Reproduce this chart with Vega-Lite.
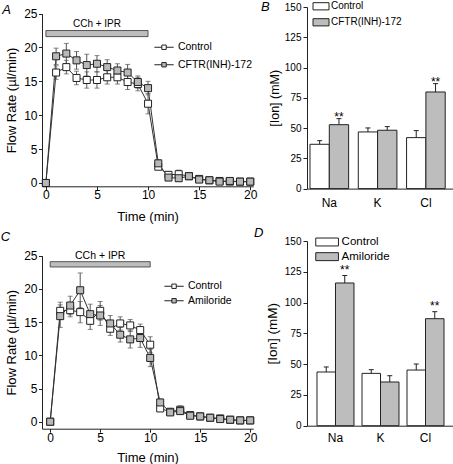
{
  "$schema": "https://vega.github.io/schema/vega-lite/v6.json",
  "padding": 0,
  "autosize": {"type": "pad"},
  "config": {
    "font": "Liberation Sans",
    "view": {"stroke": null},
    "axis": {"grid": false, "domainColor": "#222", "tickColor": "#222", "labelColor": "#000", "titleColor": "#000", "labelFont": "Liberation Sans", "titleFont": "Liberation Sans", "titleFontWeight": "normal", "tickSize": 3.5, "domainWidth": 1, "tickWidth": 1, "labelFlush": false, "labelOverlap": false},
    "legend": {"labelFont": "Liberation Sans", "labelColor": "#000", "padding": 0, "title": null},
    "title": {"font": "Liberation Sans", "fontStyle": "italic", "fontWeight": "normal", "fontSize": 13, "anchor": "start", "color": "#000", "offset": 0, "frame": "group"}
  },
  "columns": 2,
  "bounds": "flush",
  "spacing": {"row": 52, "column": 53},
  "resolve": {"scale": {"fill": "independent", "x": "independent", "y": "independent", "xOffset": "independent"}, "legend": {"fill": "independent"}},
  "datasets": {
    "flowA": [
      {"t": 0, "series": "Control", "v": 0, "sem": 0},
      {"t": 1, "series": "Control", "v": 16.3, "sem": 1.0},
      {"t": 2, "series": "Control", "v": 17.1, "sem": 1.0},
      {"t": 3, "series": "Control", "v": 15.5, "sem": 1.0},
      {"t": 4, "series": "Control", "v": 15.2, "sem": 1.2},
      {"t": 5, "series": "Control", "v": 15.2, "sem": 1.2},
      {"t": 6, "series": "Control", "v": 15.6, "sem": 1.0},
      {"t": 7, "series": "Control", "v": 15.6, "sem": 1.0},
      {"t": 8, "series": "Control", "v": 14.9, "sem": 1.1},
      {"t": 9, "series": "Control", "v": 14.6, "sem": 1.0},
      {"t": 10, "series": "Control", "v": 11.7, "sem": 1.5},
      {"t": 11, "series": "Control", "v": 2.4, "sem": 0.4},
      {"t": 12, "series": "Control", "v": 1.2, "sem": 0.5},
      {"t": 13, "series": "Control", "v": 1.3, "sem": 0.6},
      {"t": 14, "series": "Control", "v": 1.0, "sem": 0.4},
      {"t": 15, "series": "Control", "v": 0.6, "sem": 0.3},
      {"t": 16, "series": "Control", "v": 0.4, "sem": 0.3},
      {"t": 17, "series": "Control", "v": 0.3, "sem": 0.3},
      {"t": 18, "series": "Control", "v": 0.2, "sem": 0.3},
      {"t": 19, "series": "Control", "v": 0.2, "sem": 0.3},
      {"t": 20, "series": "Control", "v": 0.2, "sem": 0.2},
      {"t": 0, "series": "CFTR(INH)-172", "v": 0, "sem": 0},
      {"t": 1, "series": "CFTR(INH)-172", "v": 18.7, "sem": 1.2},
      {"t": 2, "series": "CFTR(INH)-172", "v": 19.1, "sem": 1.5},
      {"t": 3, "series": "CFTR(INH)-172", "v": 18.1, "sem": 1.3},
      {"t": 4, "series": "CFTR(INH)-172", "v": 17.4, "sem": 1.6},
      {"t": 5, "series": "CFTR(INH)-172", "v": 17.6, "sem": 1.2},
      {"t": 6, "series": "CFTR(INH)-172", "v": 17.1, "sem": 1.1},
      {"t": 7, "series": "CFTR(INH)-172", "v": 16.6, "sem": 1.0},
      {"t": 8, "series": "CFTR(INH)-172", "v": 16.3, "sem": 1.2},
      {"t": 9, "series": "CFTR(INH)-172", "v": 14.9, "sem": 0.9},
      {"t": 10, "series": "CFTR(INH)-172", "v": 14.0, "sem": 1.0},
      {"t": 11, "series": "CFTR(INH)-172", "v": 2.9, "sem": 0.5},
      {"t": 12, "series": "CFTR(INH)-172", "v": 0.8, "sem": 0.4},
      {"t": 13, "series": "CFTR(INH)-172", "v": 0.7, "sem": 0.4},
      {"t": 14, "series": "CFTR(INH)-172", "v": 1.0, "sem": 0.4},
      {"t": 15, "series": "CFTR(INH)-172", "v": 0.5, "sem": 0.3},
      {"t": 16, "series": "CFTR(INH)-172", "v": 0.4, "sem": 0.3},
      {"t": 17, "series": "CFTR(INH)-172", "v": 0.2, "sem": 0.3},
      {"t": 18, "series": "CFTR(INH)-172", "v": 0.3, "sem": 0.4},
      {"t": 19, "series": "CFTR(INH)-172", "v": 0.2, "sem": 0.4},
      {"t": 20, "series": "CFTR(INH)-172", "v": 0.2, "sem": 0.3}
    ],
    "flowC": [
      {"t": 0, "series": "Control", "v": 0, "sem": 0},
      {"t": 1, "series": "Control", "v": 16.7, "sem": 1.3},
      {"t": 2, "series": "Control", "v": 16.8, "sem": 1.0},
      {"t": 3, "series": "Control", "v": 16.5, "sem": 1.6},
      {"t": 4, "series": "Control", "v": 15.2, "sem": 1.3},
      {"t": 5, "series": "Control", "v": 16.7, "sem": 1.4},
      {"t": 6, "series": "Control", "v": 14.0, "sem": 1.0},
      {"t": 7, "series": "Control", "v": 14.8, "sem": 1.0},
      {"t": 8, "series": "Control", "v": 14.5, "sem": 0.9},
      {"t": 9, "series": "Control", "v": 13.8, "sem": 0.9},
      {"t": 10, "series": "Control", "v": 11.6, "sem": 1.2},
      {"t": 11, "series": "Control", "v": 2.0, "sem": 0.4},
      {"t": 12, "series": "Control", "v": 1.5, "sem": 0.5},
      {"t": 13, "series": "Control", "v": 1.8, "sem": 0.6},
      {"t": 14, "series": "Control", "v": 1.0, "sem": 0.4},
      {"t": 15, "series": "Control", "v": 0.8, "sem": 0.4},
      {"t": 16, "series": "Control", "v": 0.6, "sem": 0.4},
      {"t": 17, "series": "Control", "v": 0.5, "sem": 0.4},
      {"t": 18, "series": "Control", "v": 0.3, "sem": 0.3},
      {"t": 19, "series": "Control", "v": 0.2, "sem": 0.3},
      {"t": 20, "series": "Control", "v": 0.2, "sem": 0.3},
      {"t": 0, "series": "Amiloride", "v": 0, "sem": 0},
      {"t": 1, "series": "Amiloride", "v": 15.9, "sem": 1.7},
      {"t": 2, "series": "Amiloride", "v": 17.5, "sem": 1.4},
      {"t": 3, "series": "Amiloride", "v": 19.8, "sem": 2.6},
      {"t": 4, "series": "Amiloride", "v": 16.2, "sem": 1.5},
      {"t": 5, "series": "Amiloride", "v": 16.0, "sem": 1.5},
      {"t": 6, "series": "Amiloride", "v": 14.8, "sem": 1.2},
      {"t": 7, "series": "Amiloride", "v": 13.1, "sem": 1.1},
      {"t": 8, "series": "Amiloride", "v": 12.4, "sem": 1.3},
      {"t": 9, "series": "Amiloride", "v": 12.6, "sem": 1.4},
      {"t": 10, "series": "Amiloride", "v": 9.6, "sem": 1.3},
      {"t": 11, "series": "Amiloride", "v": 2.9, "sem": 0.5},
      {"t": 12, "series": "Amiloride", "v": 1.4, "sem": 0.4},
      {"t": 13, "series": "Amiloride", "v": 1.6, "sem": 0.5},
      {"t": 14, "series": "Amiloride", "v": 0.9, "sem": 0.3},
      {"t": 15, "series": "Amiloride", "v": 0.8, "sem": 0.3},
      {"t": 16, "series": "Amiloride", "v": 0.6, "sem": 0.3},
      {"t": 17, "series": "Amiloride", "v": 0.4, "sem": 0.3},
      {"t": 18, "series": "Amiloride", "v": 0.3, "sem": 0.3},
      {"t": 19, "series": "Amiloride", "v": 0.2, "sem": 0.3},
      {"t": 20, "series": "Amiloride", "v": 0.2, "sem": 0.3}
    ],
    "treatment": [{"start": 0, "end": 10, "label": "CCh + IPR"}],
    "barsB": [
      {"ion": "Na", "group": "Control", "v": 36.6, "top": 39.6, "sig": ""},
      {"ion": "Na", "group": "CFTR(INH)-172", "v": 52.8, "top": 57.8, "sig": "**"},
      {"ion": "K", "group": "Control", "v": 46.8, "top": 50.1, "sig": ""},
      {"ion": "K", "group": "CFTR(INH)-172", "v": 48.2, "top": 51.2, "sig": ""},
      {"ion": "Cl", "group": "Control", "v": 42.1, "top": 47.9, "sig": ""},
      {"ion": "Cl", "group": "CFTR(INH)-172", "v": 79.8, "top": 86.7, "sig": "**"}
    ],
    "barsD": [
      {"ion": "Na", "group": "Control", "v": 43.6, "top": 47.7, "sig": ""},
      {"ion": "Na", "group": "Amiloride", "v": 115.9, "top": 122.0, "sig": "**"},
      {"ion": "K", "group": "Control", "v": 42.5, "top": 45.5, "sig": ""},
      {"ion": "K", "group": "Amiloride", "v": 35.5, "top": 40.6, "sig": ""},
      {"ion": "Cl", "group": "Control", "v": 45.2, "top": 50.1, "sig": ""},
      {"ion": "Cl", "group": "Amiloride", "v": 86.9, "top": 92.6, "sig": "**"}
    ]
  },
  "concat": [
    {
      "width": 211.2,
      "height": 179.3,
      "title": {"text": "A", "dx": -39.8, "dy": 13.5},
      "layer": [
        {
          "data": {"name": "treatment"},
          "mark": {"type": "rect", "fill": "#bdbdbd", "stroke": "#333", "strokeWidth": 0.8},
          "encoding": {
            "x": {"field": "start", "type": "quantitative", "title": "Time (min)"},
            "x2": {"field": "end"},
            "y": {"datum": 21.6, "type": "quantitative", "title": "Flow Rate (µl/min)"},
            "y2": {"datum": 22.5}
          }
        },
        {
          "data": {"name": "treatment"},
          "mark": {"type": "text", "fontSize": 10, "baseline": "middle", "align": "center"},
          "encoding": {
            "x": {"datum": 5, "type": "quantitative", "title": "Time (min)"},
            "y": {"datum": 23.4, "type": "quantitative", "title": "Flow Rate (µl/min)"},
            "text": {"field": "label"}
          }
        },
        {
          "data": {"name": "flowA"},
          "mark": {"type": "line", "stroke": "#333", "strokeWidth": 1},
          "encoding": {
            "x": {"field": "t", "type": "quantitative", "title": "Time (min)", "scale": {"domain": [-0.38, 20.29], "nice": false, "zero": false}, "axis": {"values": [0, 5, 10, 15, 20], "tickCount": 10, "labelFontSize": 12, "titleFontSize": 13, "labelPadding": 0, "titlePadding": 10}},
            "y": {"field": "v", "type": "quantitative", "title": "Flow Rate (µl/min)", "scale": {"domain": [-0.49, 25], "range": [179.3, 6.6], "nice": false, "zero": false}, "axis": {"values": [0, 5, 10, 15, 20, 25], "tickCount": 10, "labelFontSize": 12, "titleFontSize": 13, "labelPadding": 1.5, "titlePadding": 5}},
            "detail": {"field": "series"}
          }
        },
        {
          "data": {"name": "flowA"},
          "mark": {"type": "errorbar", "ticks": {"size": 5, "thickness": 1, "color": "#555"}, "color": "#555", "thickness": 1},
          "encoding": {
            "x": {"field": "t", "type": "quantitative", "title": "Time (min)"},
            "y": {"field": "v", "type": "quantitative", "title": "Flow Rate (µl/min)"},
            "yError": {"field": "sem"},
            "detail": {"field": "series"}
          }
        },
        {
          "data": {"name": "flowA"},
          "mark": {"type": "square", "size": 49, "stroke": "#222", "strokeWidth": 1, "opacity": 1},
          "encoding": {
            "x": {"field": "t", "type": "quantitative", "title": "Time (min)"},
            "y": {"field": "v", "type": "quantitative", "title": "Flow Rate (µl/min)"},
            "fill": {"field": "series", "type": "nominal", "scale": {"domain": ["Control", "CFTR(INH)-172"], "range": ["#ffffff", "#b8b8b8"]},
              "legend": {"orient": "none", "legendX": 116.8, "legendY": 35, "symbolType": "M-2.2,0H-0.5M0.5,0H2.2M-0.5,-0.5H0.5V0.5H-0.5Z", "symbolSize": 77, "symbolStrokeColor": "#222", "symbolStrokeWidth": 1, "labelFontSize": 10.5, "labelOffset": 8.6, "rowPadding": 6.5}}
          }
        }
      ]
    },
    {
      "width": 147,
      "height": 181.6,
      "title": {"text": "B", "dx": -46, "dy": 16.5},
      "data": {"name": "barsB"},
      "encoding": {
        "x": {"field": "ion", "type": "nominal", "sort": ["Na", "K", "Cl"], "scale": {"paddingInner": 0.2, "paddingOuter": 0.122, "align": 0.254}, "axis": {"title": null, "ticks": false, "labelAngle": 0, "labelFontSize": 12, "labelPadding": 9}},
        "xOffset": {"field": "group", "type": "nominal", "sort": ["Control", "CFTR(INH)-172"]}
      },
      "layer": [
        {
          "mark": {"type": "bar", "stroke": "#222", "strokeWidth": 1},
          "encoding": {
            "y": {"field": "v", "type": "quantitative", "title": "[Ion] (mM)", "scale": {"domain": [0, 150], "nice": false}, "axis": {"values": [0, 25, 50, 75, 100, 125, 150], "tickCount": 10, "labelFontSize": 10, "titleFontSize": 12.5, "tickSize": 4, "labelPadding": 2, "titlePadding": 3}},
            "fill": {"field": "group", "type": "nominal", "scale": {"domain": ["Control", "CFTR(INH)-172"], "range": ["#ffffff", "#bdbdbd"]},
              "legend": {"orient": "none", "legendX": 9, "legendY": -5.7, "symbolType": "M-2,-0.9H2V0.9H-2Z", "symbolSize": 64, "symbolStrokeColor": "#222", "symbolStrokeWidth": 1, "labelFontSize": 10, "labelOffset": 5, "rowPadding": 4}}
          }
        },
        {
          "mark": {"type": "rule", "color": "#222", "strokeWidth": 1},
          "encoding": {"y": {"field": "v", "type": "quantitative", "title": "[Ion] (mM)"}, "y2": {"field": "top"}}
        },
        {
          "mark": {"type": "tick", "orient": "horizontal", "size": 5, "thickness": 1, "color": "#222", "opacity": 1},
          "encoding": {"y": {"field": "top", "type": "quantitative", "title": "[Ion] (mM)"}}
        },
        {
          "mark": {"type": "text", "fontSize": 12, "baseline": "alphabetic", "dy": 2},
          "encoding": {"y": {"field": "top", "type": "quantitative", "title": "[Ion] (mM)"}, "text": {"field": "sig"}}
        }
      ]
    },
    {
      "width": 211.2,
      "height": 187.7,
      "title": {"text": "C", "dx": -41.3, "dy": 6.5},
      "layer": [
        {
          "data": {"name": "treatment"},
          "mark": {"type": "rect", "fill": "#bdbdbd", "stroke": "#333", "strokeWidth": 0.8},
          "encoding": {
            "x": {"field": "start", "type": "quantitative", "title": "Time (min)"},
            "x2": {"field": "end"},
            "y": {"datum": 23.3, "type": "quantitative", "title": "Flow Rate (µl/min)"},
            "y2": {"datum": 24.1}
          }
        },
        {
          "data": {"name": "treatment"},
          "mark": {"type": "text", "fontSize": 10.5, "baseline": "middle", "align": "center"},
          "encoding": {
            "x": {"datum": 5, "type": "quantitative", "title": "Time (min)"},
            "y": {"datum": 25.0, "type": "quantitative", "title": "Flow Rate (µl/min)"},
            "text": {"field": "label"}
          }
        },
        {
          "data": {"name": "flowC"},
          "mark": {"type": "line", "stroke": "#333", "strokeWidth": 1},
          "encoding": {
            "x": {"field": "t", "type": "quantitative", "title": "Time (min)", "scale": {"domain": [-0.82, 20.3], "nice": false, "zero": false}, "axis": {"values": [0, 5, 10, 15, 20], "tickCount": 10, "labelFontSize": 12, "titleFontSize": 13, "labelPadding": 0.5, "titlePadding": 7.5}},
            "y": {"field": "v", "type": "quantitative", "title": "Flow Rate (µl/min)", "scale": {"domain": [-1.05, 25], "range": [187.7, 14.7], "nice": false, "zero": false}, "axis": {"values": [0, 5, 10, 15, 20, 25], "tickCount": 10, "labelFontSize": 12, "titleFontSize": 13, "labelPadding": 1.5, "titlePadding": 5}},
            "detail": {"field": "series"}
          }
        },
        {
          "data": {"name": "flowC"},
          "mark": {"type": "errorbar", "ticks": {"size": 5, "thickness": 1, "color": "#555"}, "color": "#555", "thickness": 1},
          "encoding": {
            "x": {"field": "t", "type": "quantitative", "title": "Time (min)"},
            "y": {"field": "v", "type": "quantitative", "title": "Flow Rate (µl/min)"},
            "yError": {"field": "sem"},
            "detail": {"field": "series"}
          }
        },
        {
          "data": {"name": "flowC"},
          "mark": {"type": "square", "size": 49, "stroke": "#222", "strokeWidth": 1, "opacity": 1},
          "encoding": {
            "x": {"field": "t", "type": "quantitative", "title": "Time (min)"},
            "y": {"field": "v", "type": "quantitative", "title": "Flow Rate (µl/min)"},
            "fill": {"field": "series", "type": "nominal", "scale": {"domain": ["Control", "Amiloride"], "range": ["#ffffff", "#b8b8b8"]},
              "legend": {"orient": "none", "legendX": 126.8, "legendY": 40, "symbolType": "M-2.2,0H-0.5M0.5,0H2.2M-0.5,-0.5H0.5V0.5H-0.5Z", "symbolSize": 77, "symbolStrokeColor": "#222", "symbolStrokeWidth": 1, "labelFontSize": 10.5, "labelOffset": 8.6, "rowPadding": 3.5}}
          }
        }
      ]
    },
    {
      "width": 147,
      "height": 184.7,
      "title": {"text": "D", "dx": -53, "dy": 8},
      "data": {"name": "barsD"},
      "encoding": {
        "x": {"field": "ion", "type": "nominal", "sort": ["Na", "K", "Cl"], "scale": {"paddingInner": 0.178, "paddingOuter": 0.222, "align": 0.5}, "axis": {"title": null, "ticks": false, "labelAngle": 0, "labelFontSize": 12, "labelPadding": 6.5}},
        "xOffset": {"field": "group", "type": "nominal", "sort": ["Control", "Amiloride"]}
      },
      "layer": [
        {
          "mark": {"type": "bar", "stroke": "#222", "strokeWidth": 1},
          "encoding": {
            "y": {"field": "v", "type": "quantitative", "title": "[Ion] (mM)", "scale": {"domain": [0, 150], "nice": false}, "axis": {"values": [0, 25, 50, 75, 100, 125, 150], "tickCount": 10, "labelFontSize": 10, "titleFontSize": 13.5, "tickSize": 4, "labelPadding": 2, "titlePadding": 5}},
            "fill": {"field": "group", "type": "nominal", "scale": {"domain": ["Control", "Amiloride"], "range": ["#ffffff", "#bdbdbd"]},
              "legend": {"orient": "none", "legendX": 13.6, "legendY": -5.5, "symbolType": "M-2,-0.7H2V0.7H-2Z", "symbolSize": 128.8, "symbolStrokeColor": "#222", "symbolStrokeWidth": 1, "labelFontSize": 11.5, "labelOffset": 8, "rowPadding": 1.65}}
          }
        },
        {
          "mark": {"type": "rule", "color": "#222", "strokeWidth": 1},
          "encoding": {"y": {"field": "v", "type": "quantitative", "title": "[Ion] (mM)"}, "y2": {"field": "top"}}
        },
        {
          "mark": {"type": "tick", "orient": "horizontal", "size": 5, "thickness": 1, "color": "#222", "opacity": 1},
          "encoding": {"y": {"field": "top", "type": "quantitative", "title": "[Ion] (mM)"}}
        },
        {
          "mark": {"type": "text", "fontSize": 12, "baseline": "alphabetic", "dy": -1.5},
          "encoding": {"y": {"field": "top", "type": "quantitative", "title": "[Ion] (mM)"}, "text": {"field": "sig"}}
        }
      ]
    }
  ]
}
